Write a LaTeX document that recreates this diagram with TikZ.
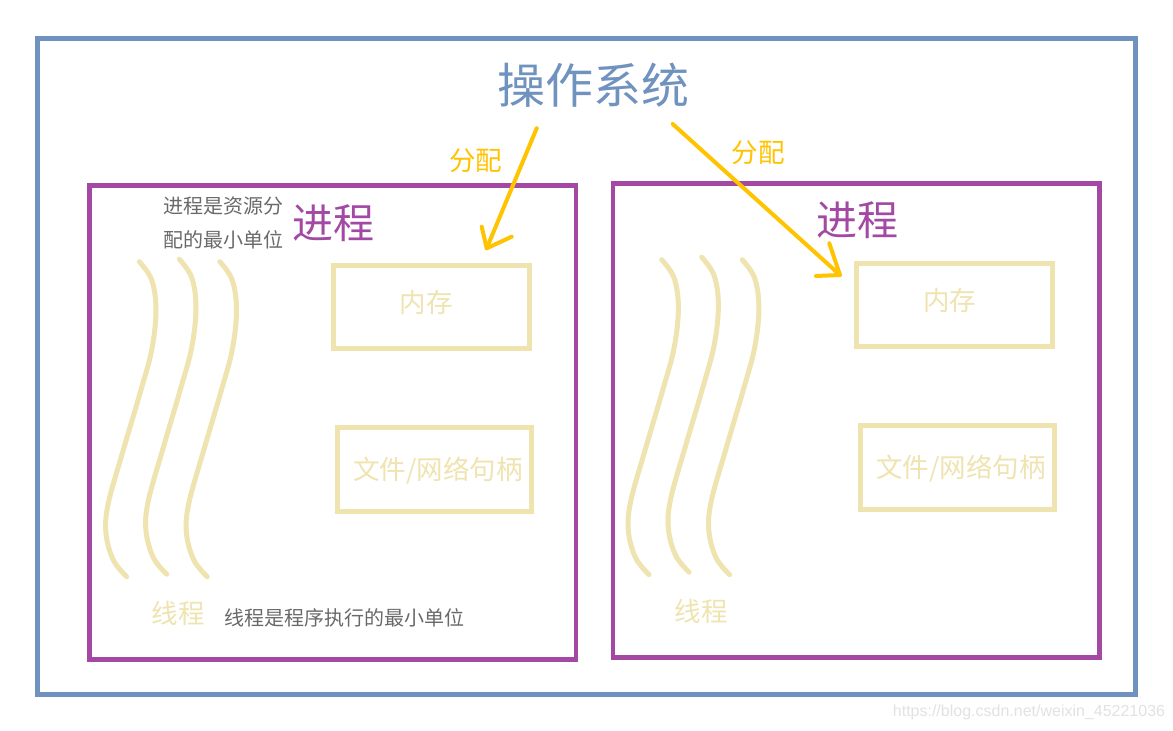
\documentclass[tikz,border=0pt]{standalone}
\usepackage{fontspec}
\setmainfont{Noto Sans CJK SC}
\newfontfamily\wmfont{Liberation Sans}
\definecolor{osblue}{RGB}{112,146,190}
\definecolor{procpurple}{RGB}{163,73,164}
\definecolor{allocyellow}{RGB}{255,195,0}
\definecolor{tanline}{RGB}{239,228,176}
\definecolor{notegray}{RGB}{105,105,105}
\definecolor{wmgray}{RGB}{226,226,226}
\tikzset{
  fsz/.style={font=\fontsize{#1}{#1}\selectfont},
  txt/.style={inner sep=0pt, outer sep=0pt},
  osbox/.style={draw=osblue, line width=5pt, inner sep=0pt},
  procbox/.style={draw=procpurple, line width=4.5pt, inner sep=0pt, minimum width=486.5pt, minimum height=474pt},
  resbox/.style={draw=tanline, line width=5pt, inner sep=0pt},
  thread/.style={draw=tanline, line width=5pt, line cap=round},
  alloc/.style={draw=allocyellow, line width=4pt, line cap=round, line join=round},
  titletext/.style={txt, fsz=48, text=osblue},
  proctext/.style={txt, fsz=41, text=procpurple},
  alloctext/.style={txt, fsz=26.5, text=allocyellow},
  restext/.style={txt, fsz=26.5, text=tanline},
  notetext/.style={txt, fsz=20, text=notegray},
}
\begin{document}
\begin{tikzpicture}[x=1pt,y=-1pt]
\fill[white] (0,0) rectangle (1173,731);
\useasboundingbox (0,0) rectangle (1173,731);

% operating system frame
\node[osbox, minimum width=1097.7pt, minimum height=655.5pt] (os) at (586.35,366.25) {};
\node[titletext] (ostitle) at (593.3,84.7) {操作系统};

% process frames
\node[procbox] (p1) at (332.75,422.5) {};
\node[procbox] (p2) at (856,420.5) {};
\node[proctext] (p1t) at (333,223.3) {进程};
\node[proctext] (p2t) at (857,220) {进程};

% notes
\node[notetext] (n1a) at (223,206) {进程是资源分};
\node[notetext] (n1b) at (223,240) {配的最小单位};
\node[notetext] (n2) at (344,618) {线程是程序执行的最小单位};

% resource boxes
\node[resbox, minimum width=196.2pt, minimum height=82.5pt] (m1) at (431.6,307.05) {};
\node[restext] (m1t) at (426,302) {内存};
\node[resbox, minimum width=193.8pt, minimum height=83.5pt] (f1) at (434.4,469.25) {};
\node[restext] (f1t) at (438,470.5) {文件/网络句柄};
\node[resbox, minimum width=196pt, minimum height=83pt] (m2) at (954.5,305) {};
\node[restext] (m2t) at (949.5,300.5) {内存};
\node[resbox, minimum width=193.5pt, minimum height=83.4pt] (f2) at (957.55,467.5) {};
\node[restext] (f2t) at (961,469) {文件/网络句柄};

% threads
\foreach \sx/\sy in {0/0, 522.4/-2} {
  \begin{scope}[shift={(\sx,\sy)}]
    \foreach \dx/\dy in {0/0, 40/-2.5, 80.5/0} {
      \draw[thread, shift={(\dx,\dy)}] plot[smooth, tension=0.6] coordinates {
        (139.3,261.7) (151.7,280) (156,310) (151.7,350) (140,393.3) (123.3,450)
        (108.3,503.3) (106,533.3) (113.3,560) (126.7,576.7)};
    }
  \end{scope}
}
\node[restext] (t1) at (178,613) {线程};
\node[restext] (t2) at (701,611) {线程};

% allocation arrows
\coordinate (a1s) at (536.7,128.3);
\coordinate (a1t) at (486.7,248.3);
\coordinate (a1b1) at (481.7,226.7);
\coordinate (a1b2) at (511.7,236.7);
\draw[alloc] (a1s) -- (a1t);
\draw[alloc] (a1b1) -- (a1t) -- (a1b2);
\node[alloctext] (a1l) at (475.5,161) {分配};

\coordinate (a2s) at (672.7,124);
\coordinate (a2t) at (840,275);
\coordinate (a2b1) at (829.3,243.3);
\coordinate (a2b2) at (816,276);
\draw[alloc] (a2s) -- (a2t);
\draw[alloc] (a2b1) -- (a2t) -- (a2b2);
\node[alloctext] (a2l) at (758,152.5) {分配};

% watermark
\node[txt, font=\wmfont\fontsize{16}{16}\selectfont, text=wmgray] (wm) at (1029,712) {https://blog.csdn.net/weixin\_45221036};
\end{tikzpicture}
\end{document}
